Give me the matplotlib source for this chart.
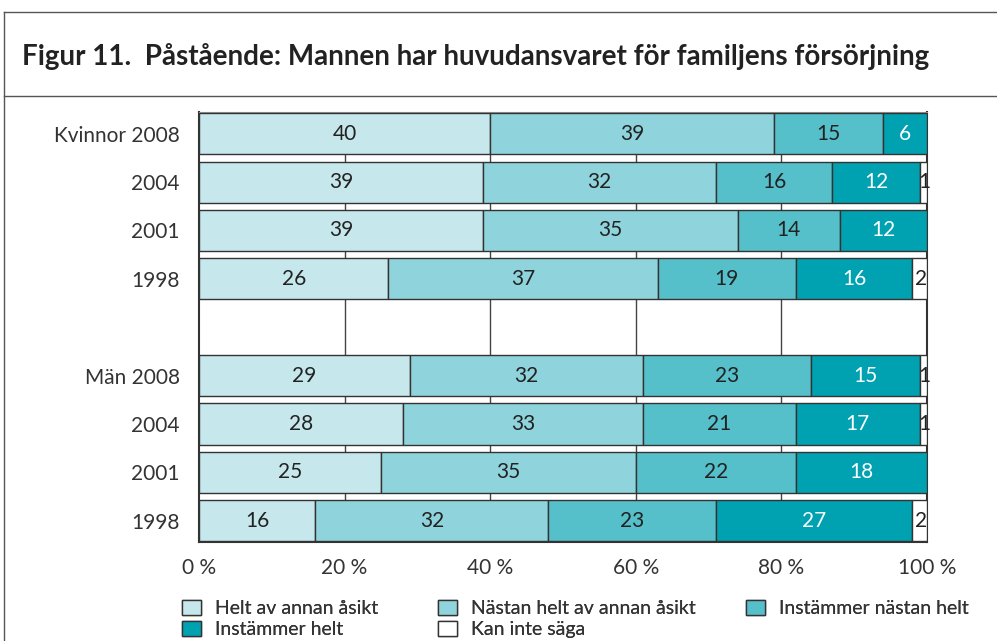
import matplotlib.pyplot as plt
from matplotlib.lines import Line2D
from matplotlib.patches import Patch

plt.rcParams['font.family'] = ['Lato', 'DejaVu Sans']

row_labels = ['Kvinnor 2008', '2004', '2001', '1998', '',
              'Män 2008', '2004', '2001', '1998']
categories = ['Helt av annan åsikt', 'Nästan helt av annan åsikt',
              'Instämmer nästan helt', 'Instämmer helt', 'Kan inte säga']
helt_annan = [40, 39, 39, 26, 0, 29, 28, 25, 16]
nastan_annan = [39, 32, 35, 37, 0, 32, 33, 35, 32]
nastan_helt = [15, 16, 14, 19, 0, 23, 21, 22, 23]
instammer = [6, 12, 12, 16, 0, 15, 17, 18, 27]
kan_inte = [0, 1, 0, 2, 0, 1, 1, 0, 2]
series = [helt_annan, nastan_annan, nastan_helt, instammer, kan_inte]
colors = ['#c6e7eb', '#8fd4dc', '#55bfca', '#00a1b1', '#ffffff']
text_colors = ['#222222', '#222222', '#222222', '#ffffff', '#222222']

fig = plt.figure(figsize=(9.97, 6.41), dpi=100)
ax = fig.add_axes([0.1996, 0.1537, 0.7302, 0.6716])

ypos = list(range(len(row_labels)))
left = [0] * len(row_labels)
for vals, col, tc in zip(series, colors, text_colors):
    for i, v in enumerate(vals):
        if row_labels[i] == '' or v == 0:
            continue
        ax.barh(i, v, left=left[i], height=0.85, color=col,
                edgecolor='#333333', linewidth=1, zorder=3)
        xt = left[i] + v / 2 + (0.15 if v <= 2 else 0)
        ax.text(xt, i, str(v), ha='center', va='center',
                fontsize=15, color=tc, zorder=4)
    left = [l + v for l, v in zip(left, vals)]

ax.set_xlim(0, 100)
ax.set_ylim(8.45, -0.45)
ax.set_yticks(ypos)
ax.set_yticklabels(row_labels, fontsize=15, color='#333333')
ax.set_xticks([0, 20, 40, 60, 80, 100])
ax.set_xticklabels(['0 %', '20 %', '40 %', '60 %', '80 %', '100 %'],
                   fontsize=15, color='#333333')
ax.tick_params(length=0, pad=11)
ax.tick_params(axis='y', pad=14)
for x in [20, 40, 60, 80]:
    ax.axvline(x, color='#444444', linewidth=1, zorder=1)
ax.spines['top'].set_color('#999999')
for s in ['bottom', 'right', 'left']:
    ax.spines[s].set_color('#333333')
    ax.spines[s].set_linewidth(1.5)

# outer frame and title band
fig.add_artist(Line2D([0.004, 0.004], [0, 1 - 12 / 641], color='#555555', lw=1))
fig.add_artist(Line2D([0.004, 1], [1 - 12 / 641, 1 - 12 / 641], color='#555555', lw=1))
fig.add_artist(Line2D([0.004, 1], [1 - 96 / 641, 1 - 96 / 641], color='#555555', lw=1))
fig.text(22 / 997, 1 - 56 / 641,
         'Figur 11.  Påstående: Mannen har huvudansvaret för familjens försörjning',
         fontsize=20, fontweight='bold', color='#222222', va='center')

# legend: three columns, filled row by row
handles = [Patch(facecolor=c, edgecolor='#333333', linewidth=1) for c in colors]
columns = [[0, 3], [1, 4], [2]]
col_x = [172, 428, 736]
for idx, cx in zip(columns, col_x):
    leg = fig.legend([handles[i] for i in idx], [categories[i] for i in idx],
                     loc='upper left', bbox_to_anchor=(cx / 997, 1 - 590 / 641),
                     frameon=False, fontsize=14, handlelength=1.0,
                     handleheight=0.8, handletextpad=0.7, labelspacing=0.2,
                     borderpad=0, labelcolor='#333333')
    fig.add_artist(leg)

fig.savefig('out.png', dpi=100)
